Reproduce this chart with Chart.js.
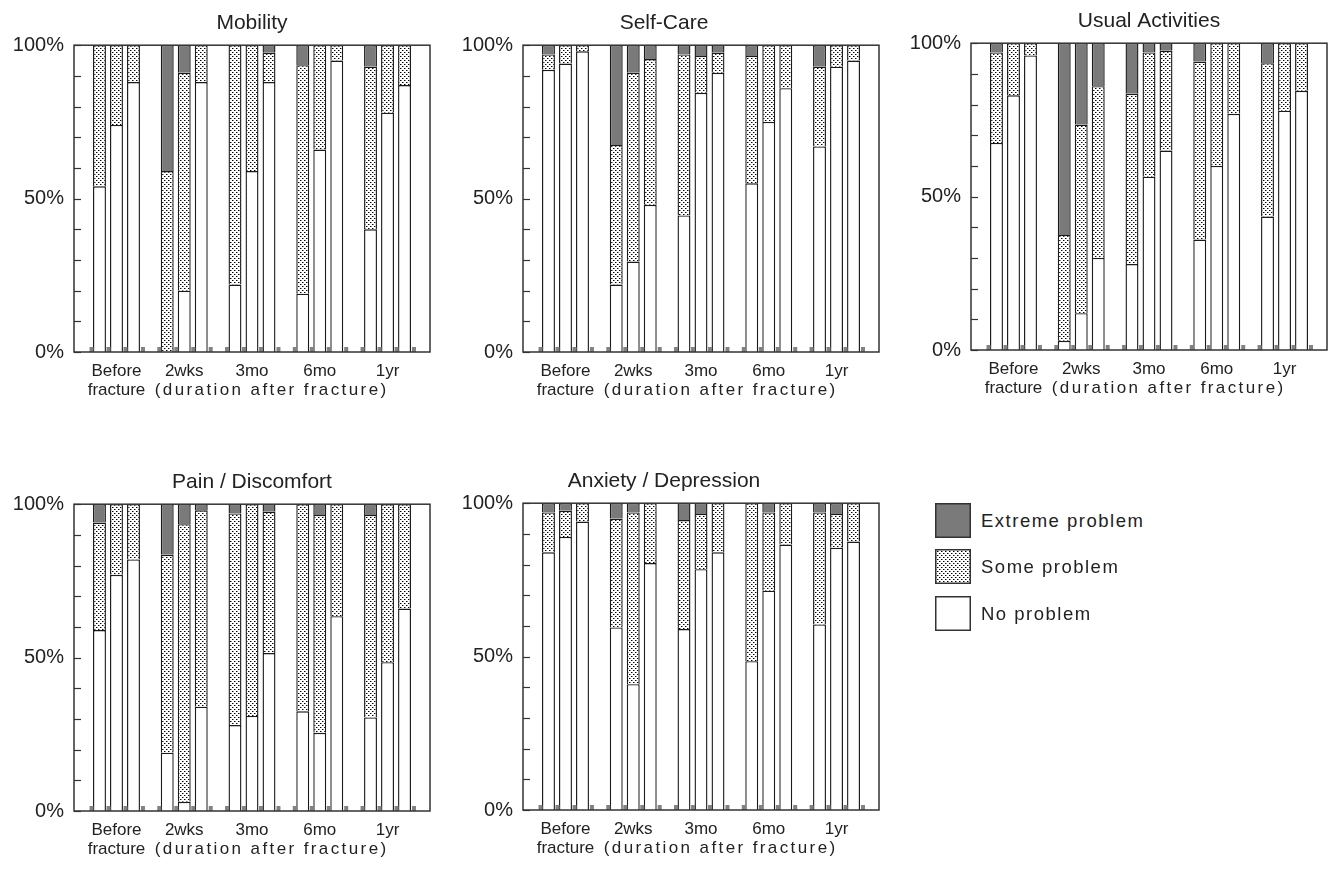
<!DOCTYPE html>
<html>
<head>
<meta charset="utf-8">
<script src="https://cdn.jsdelivr.net/npm/chart.js@4.4.0/dist/chart.umd.min.js"></script>
<style>
  body { margin: 0; background: #fff; width: 1334px; height: 871px; overflow: hidden; position: relative;
         font-family: "Liberation Sans", Arial, Helvetica, sans-serif; color: #222; }
  .panel { position: absolute; width: 436px; height: 412px; }
  #p1 { left: 0; top: 0; }
  #p2 { left: 449px; top: 0; }
  #p3 { left: 897px; top: -2px; }
  #p4 { left: 0; top: 459px; }
  #p5 { left: 449px; top: 458px; }
  .key { position: absolute; left: 935px; height: 35px; display: flex; align-items: center; }
  .key canvas { width: 36px; height: 35px; margin-right: 10px; }
  .key span { font-size: 18.5px; letter-spacing: 1.5px; }
</style>
</head>
<body>
<div class="panel" id="p1"><canvas id="c1" width="436" height="412"></canvas></div>
<div class="panel" id="p2"><canvas id="c2" width="436" height="412"></canvas></div>
<div class="panel" id="p3"><canvas id="c3" width="436" height="412"></canvas></div>
<div class="panel" id="p4"><canvas id="c4" width="436" height="412"></canvas></div>
<div class="panel" id="p5"><canvas id="c5" width="436" height="412"></canvas></div>
<div class="key" style="top:503px"><canvas id="k2" width="36" height="35"></canvas><span id="t2"></span></div>
<div class="key" style="top:549px"><canvas id="k1" width="36" height="35"></canvas><span id="t1"></span></div>
<div class="key" style="top:596px"><canvas id="k0" width="36" height="35"></canvas><span id="t0"></span></div>
<script>
// x categories and text
const groupLabels = [['Before', 'fracture'], '2wks', '3mo', '6mo', '1yr'];
const durationNote = '(duration after fracture)';
const seriesNames = ['No problem', 'Some problem', 'Extreme problem'];
const yTickValues = [0, 50, 100];
const yTickText = ['0%', '50%', '100%'];

// % of patients, per group: [bar1, bar2, bar3]
const mobilityNo      = [[54, 74, 88], [0, 20, 88], [22, 59, 88], [19, 66, 95], [40, 78, 87]];
const mobilitySome    = [[46, 26, 12], [59, 71, 12], [78, 41, 9.5], [74.5, 34, 5], [53, 22, 13]];
const mobilityExtreme = [[0, 0, 0], [41, 9, 0], [0, 0, 2.5], [6.5, 0, 0], [7, 0, 0]];

const selfCareNo      = [[92, 94, 98], [22, 29.5, 48], [44.5, 84.5, 91], [55, 75, 86], [67, 93, 95]];
const selfCareSome    = [[5, 6, 2], [45.5, 61.5, 47.5], [52.5, 12, 6.5], [41.5, 25, 14], [26, 7, 5]];
const selfCareExtreme = [[3, 0, 0], [32.5, 9, 4.5], [3, 3.5, 2.5], [3.5, 0, 0], [7, 0, 0]];

const usualNo      = [[67.5, 83, 96], [3, 12, 30], [28, 56.5, 65], [36, 60, 77], [43.5, 78, 84.5]];
const usualSome    = [[29.5, 17, 4], [34.5, 61.5, 56], [55.5, 40.5, 32.5], [58, 40, 23], [50, 22, 15.5]];
const usualExtreme = [[3, 0, 0], [62.5, 26.5, 14], [16.5, 3, 2.5], [6, 0, 0], [6.5, 0, 0]];

const painNo      = [[59, 77, 82], [19, 3, 34], [28, 31, 51.5], [32.5, 25.5, 63.5], [30.5, 48.5, 66]];
const painSome    = [[35, 23, 18], [64.5, 90.5, 64], [69, 69, 46], [67.5, 71, 36.5], [66, 51.5, 34]];
const painExtreme = [[6, 0, 0], [16.5, 6.5, 2], [3, 0, 2.5], [0, 3.5, 0], [3.5, 0, 0]];

const anxietyNo      = [[84, 89, 94], [59.5, 41, 80.5], [59, 78.5, 84], [48.5, 71.5, 86.5], [60.5, 85.5, 87.5]];
const anxietySome    = [[13, 8.5, 6], [35.5, 56, 19.5], [35.5, 18, 16], [51.5, 25.5, 13.5], [36.5, 11, 12.5]];
const anxietyExtreme = [[3, 2.5, 0], [5, 3, 0], [5.5, 3.5, 0], [0, 3, 0], [3, 3.5, 0]];

const FONT = '"Liberation Sans", Arial, Helvetica, sans-serif';
const INK = '#222';
const GREY = '#7a7a7a';

function dotPattern(ctx) {
  const t = document.createElement('canvas');
  t.width = 4; t.height = 4;
  const g = t.getContext('2d');
  g.fillStyle = '#fff';
  g.fillRect(0, 0, 4, 4);
  g.fillStyle = '#000';
  g.fillRect(0, 0, 1, 1);
  g.fillRect(2, 2, 1, 1);
  g.fillStyle = '#8c8c8c';
  g.fillRect(1, 0, 1, 1);
  g.fillRect(3, 2, 1, 1);
  return ctx.createPattern(t, 'repeat');
}

// frame, inward y ticks, little grey feet at the base, and the x note
const panelDeco = {
  id: 'panelDeco',
  afterDatasetsDraw(chart) {
    const { ctx, chartArea: a, scales } = chart;
    ctx.save();
    ctx.fillStyle = '#828282';
    chart.data.datasets.forEach((ds, di) => {
      if (di % 3 !== 0) return;
      const last = di === 6;
      chart.getDatasetMeta(di).data.forEach(el => {
        ctx.fillRect(el.x - el.width / 2 - 3.5, a.bottom - 5, 4, 5);
        if (last) ctx.fillRect(el.x + el.width / 2 + 1, a.bottom - 5, 4, 5);
      });
    });
    ctx.strokeStyle = '#333';
    ctx.lineWidth = 1.5;
    ctx.strokeRect(a.left, a.top, a.right - a.left, a.bottom - a.top);
    ctx.lineWidth = 1.2;
    scales.y.ticks.forEach(t => {
      const y = Math.round(scales.y.getPixelForValue(t.value)) + 0.5;
      ctx.beginPath();
      ctx.moveTo(a.left, y);
      ctx.lineTo(a.left + 7, y);
      ctx.stroke();
    });
    ctx.restore();
  },
  afterDraw(chart) {
    const xs = chart.scales.x;
    const f = xs.options.ticks.font;
    const ctx = chart.ctx;
    ctx.save();
    ctx.font = f.size + 'px ' + FONT;
    ctx.letterSpacing = '2.4px';
    ctx.fillStyle = INK;
    ctx.textAlign = 'center';
    ctx.textBaseline = 'middle';
    ctx.fillText(durationNote, xs.getPixelForValue(2.29), xs.top + xs.options.ticks.padding + f.size * f.lineHeight * 1.5);
    ctx.restore();
  }
};

function makePanel(id, title, no, some, extreme, titleOverPlot) {
  const ctx = document.getElementById(id).getContext('2d');
  const fills = ['#ffffff', dotPattern(ctx), GREY];
  const parts = [no, some, extreme];
  const datasets = [];
  for (let s = 0; s < 3; s++) {
    parts.forEach((arr, k) => {
      datasets.push({
        label: seriesNames[k],
        stack: 'bar' + s,
        data: arr.map((g, i) => ({ x: i, y: g[s] })),
        backgroundColor: fills[k],
        borderColor: '#1a1a1a',
        borderWidth: 1.4,
        borderSkipped: 'start',
        categoryPercentage: 0.753,
        barPercentage: 0.76
      });
    });
  }
  new Chart(ctx, {
    type: 'bar',
    data: { datasets },
    options: {
      responsive: false,
      animation: false,
      events: [],
      layout: { padding: { left: 0, right: 6, top: 0, bottom: 0 } },
      plugins: {
        legend: { display: false },
        tooltip: { enabled: false },
        title: {
          display: true, text: title, color: INK, fullSize: !titleOverPlot,
          font: { family: FONT, size: 21, weight: 'normal' },
          padding: { top: 11, bottom: 9 }
        }
      },
      scales: {
        x: {
          type: 'linear', min: -0.627, max: 4.627, offset: false,
          grid: { display: false, drawTicks: false }, border: { display: false },
          afterBuildTicks: axis => { axis.ticks = groupLabels.map((_, i) => ({ value: i })); },
          afterFit: axis => { axis.height = 60; },
          ticks: {
            autoSkip: false, maxRotation: 0, padding: 10, color: INK,
            font: { family: FONT, size: 17, lineHeight: 1.1 },
            callback: v => groupLabels[v]
          }
        },
        y: {
          stacked: true, min: 0, max: 100,
          grid: { display: false, drawTicks: false }, border: { display: false },
          afterFit: axis => { axis.width = 74; },
          ticks: {
            stepSize: 10, autoSkip: false, padding: 10, color: INK,
            font: { family: FONT, size: 20 },
            callback: v => { const i = yTickValues.indexOf(v); return i < 0 ? '' : yTickText[i]; }
          }
        }
      }
    },
    plugins: [panelDeco]
  });
}

makePanel('c1', 'Mobility', mobilityNo, mobilitySome, mobilityExtreme, true);
makePanel('c2', 'Self-Care', selfCareNo, selfCareSome, selfCareExtreme, false);
makePanel('c3', 'Usual Activities', usualNo, usualSome, usualExtreme, true);
makePanel('c4', 'Pain / Discomfort', painNo, painSome, painExtreme, true);
makePanel('c5', 'Anxiety / Depression', anxietyNo, anxietySome, anxietyExtreme, false);

// legend swatches
[0, 1, 2].forEach(k => {
  const c = document.getElementById('k' + k);
  const g = c.getContext('2d');
  g.fillStyle = k === 0 ? '#fff' : (k === 1 ? dotPattern(g) : GREY);
  g.fillRect(0, 0, 36, 35);
  g.strokeStyle = '#333';
  g.lineWidth = 1.5;
  g.strokeRect(0.75, 0.75, 34.5, 33.5);
  document.getElementById('t' + k).textContent = seriesNames[k];
});
</script>
</body>
</html>
